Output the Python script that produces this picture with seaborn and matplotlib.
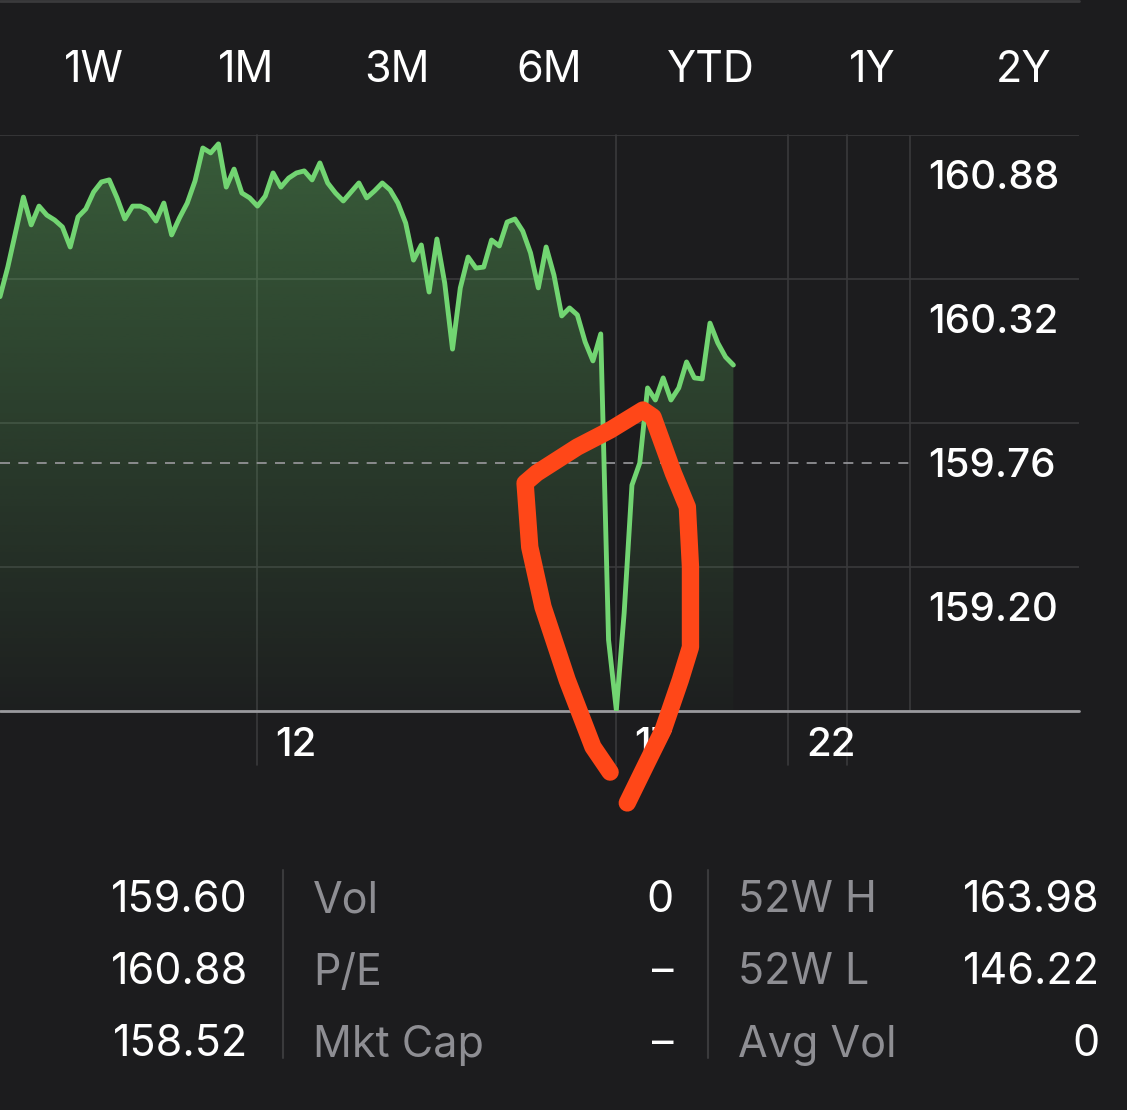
import numpy as np
import pandas as pd
import matplotlib
matplotlib.use("Agg")
import matplotlib.pyplot as plt
import matplotlib.transforms as mtransforms
import seaborn as sns

# ---------------- data ----------------
bar_index = [0, 1, 3, 4, 5, 6, 7, 8, 9, 10, 11, 12, 13, 14, 15, 16, 17, 18, 19, 20,
             21, 22, 23, 24, 25, 26, 27, 28, 29, 30, 31, 32, 33, 34, 35, 36, 37, 38, 39, 40,
             41, 42, 43, 44, 45, 46, 47, 48, 49, 50, 51, 52, 53, 54, 55, 56, 57, 58, 59, 60,
             61, 62, 63, 64, 65, 66, 67, 68, 69, 70, 71, 72, 73, 74, 75, 76, 77, 78, 79, 80,
             81, 82, 83, 84, 85, 86, 87, 88, 89, 90, 91, 92, 93, 94]
price = [160.407, 160.522, 160.794, 160.686, 160.759, 160.724, 160.705, 160.678, 160.600, 160.717,
         160.748, 160.814, 160.853, 160.861, 160.791, 160.709, 160.759, 160.759, 160.744, 160.701,
         160.771, 160.647, 160.713, 160.771, 160.857, 160.985, 160.966, 161.001, 160.833, 160.903,
         160.810, 160.791, 160.759, 160.798, 160.888, 160.833, 160.868, 160.888, 160.896, 160.861,
         160.927, 160.849, 160.810, 160.779, 160.814, 160.849, 160.791, 160.818, 160.849, 160.822,
         160.771, 160.693, 160.549, 160.608, 160.425, 160.631, 160.460, 160.203, 160.441, 160.561,
         160.518, 160.522, 160.627, 160.604, 160.697, 160.709, 160.662, 160.577, 160.441, 160.600,
         160.491, 160.332, 160.363, 160.336, 160.231, 160.157, 160.262, 159.072, 158.799, 159.177,
         159.674, 159.760, 160.052, 160.005, 160.091, 160.005, 160.052, 160.153, 160.091, 160.087,
         160.304, 160.227, 160.172, 160.141]

prev_close = 159.76
y_tick_values = [160.88, 160.32, 159.76, 159.20]
y_tick_labels = ["160.88", "160.32", "159.76", "159.20"]
x_tick_positions = [33, 79, 101]
x_tick_labels = ["12", "17", "22"]
x_extra_grid = [108.6]
plot_area_end = 116.7
x_max = 138.3

tabs = ["1W", "1M", "3M", "6M", "YTD", "1Y", "2Y"]

stats_col1_values = ["159.60", "160.88", "158.52"]
stats_col2_labels = ["Vol", "P/E", "Mkt Cap"]
stats_col2_values = ["0", "–", "–"]
stats_col3_labels = ["52W H", "52W L", "Avg Vol"]
stats_col3_values = ["163.98", "146.22", "0"]

# hand-drawn red annotation (in chart data units)
annot_x = [78.2, 76.0, 72.7, 69.6, 67.9, 67.3, 68.8, 74.0, 78.2, 82.4, 83.7, 86.3, 88.1,
           88.5, 88.5, 87.2, 85.0, 82.9, 80.4]
annot_y = [158.558, 158.656, 158.916, 159.200, 159.433, 159.682, 159.721, 159.822, 159.888,
           159.966, 159.939, 159.721, 159.589, 159.356, 159.044, 158.916, 158.722, 158.593,
           158.438]

# ---------------- style ----------------
BG = "#1c1c1e"
GRID = "#3a3a3c"
GREEN = "#72d572"
GREY = "#8e8e93"
RED = "#ff4718"

sns.set_style("dark", {"axes.facecolor": BG, "figure.facecolor": BG})
plt.rcParams["font.family"] = ["Inter", "DejaVu Sans"]

W, H = 1127, 1110
fig = plt.figure(figsize=(W / 100, H / 100), dpi=100)
fig.patch.set_facecolor(BG)

# y geometry: labels sit 40px below their gridline, 144px per 0.56
grid_offset = 0.56 * 40 / 144
grid_values = [v + grid_offset for v in y_tick_values]
y_top = grid_values[0]
y_bot = y_tick_values[-1] - 0.56 + grid_offset

ax_top_px, ax_bot_px = 135, 711
ax = fig.add_axes([0, 1 - ax_bot_px / H, 1079 / W, (ax_bot_px - ax_top_px) / H])
ax.set_facecolor(BG)
for s in ax.spines.values():
    s.set_visible(False)
ax.grid(False)

df = pd.DataFrame({"bar": bar_index, "price": price})

# horizontal gridlines
for gv in grid_values:
    ax.axhline(gv, color=GRID, lw=1.2, zorder=0)
ax.axhline(y_bot, color="#9a9a9e", lw=2.0, zorder=3, clip_on=False)

# vertical gridlines
ext = (765 - ax_bot_px) / (ax_bot_px - ax_top_px)
for xv in x_tick_positions + x_extra_grid:
    ax.axvline(xv, ymin=-ext, ymax=1, color=GRID, lw=1.2, zorder=0, clip_on=False)
ax.axvline(plot_area_end, color=GRID, lw=1.2, zorder=0)

# gradient fill under the line
poly = ax.fill_between(df["bar"], df["price"], y_bot, color="none", lw=0)
grad = np.zeros((256, 1, 4))
grad[..., 0] = 0x6c / 255
grad[..., 1] = 0xd0 / 255
grad[..., 2] = 0x6c / 255
grad[..., 3] = np.linspace(0.36, 0.02, 256)[:, None]
im = ax.imshow(grad, extent=[0, max(bar_index), y_bot, y_top], aspect="auto",
               origin="upper", zorder=1)
im.set_clip_path(poly.get_paths()[0], transform=ax.transData)

# previous close dashed line
ax.plot([0, plot_area_end], [prev_close, prev_close], color="#9a9a9e", lw=1.2,
        dashes=(6, 5), zorder=2)

# price line
sns.lineplot(data=df, x="bar", y="price", color=GREEN, linewidth=3.5, sort=False,
             ax=ax, zorder=4, estimator=None)
ax.set_xlabel("")
ax.set_ylabel("")
ax.set_xticks([])
ax.set_yticks([])

ax.set_xlim(0, x_max)
ax.set_ylim(y_bot, y_top)

# y labels (inside the right band)
ytrans = mtransforms.blended_transform_factory(ax.transAxes, ax.transData)
ytrans_off = mtransforms.offset_copy(ytrans, fig=fig, x=0, y=-3, units="dots")
for v, lab in zip(y_tick_values, y_tick_labels):
    ax.text(928 / 1079, v, lab, transform=ytrans_off, ha="left", va="center",
            color="white", fontsize=29, fontweight="medium")

# x labels to the right of their gridlines
xtrans = mtransforms.blended_transform_factory(ax.transData, ax.transAxes)
xtrans_off = mtransforms.offset_copy(xtrans, fig=fig, x=18, y=-3, units="dots")
for xv, lab in zip(x_tick_positions, x_tick_labels):
    ax.text(xv, -(742 - ax_bot_px) / (ax_bot_px - ax_top_px), lab, transform=xtrans_off,
            ha="left", va="center", color="white", fontsize=29, fontweight="medium")

# red hand-drawn annotation
ax.plot(annot_x, annot_y, color=RED, lw=12.5, solid_capstyle="round",
        solid_joinstyle="round", clip_on=False, zorder=10)

# top thin line and header tabs
fig.add_artist(plt.Line2D([0, 1079 / W], [1 - 1 / H, 1 - 1 / H], color=GRID, lw=2))
tab_x = [94, 246, 397, 549, 711, 872, 1024]
for tx, t in zip(tab_x, tabs):
    fig.text(tx / W, 1 - 71 / H, t, ha="center", va="center", color="white",
             fontsize=31)

# stats table
row_y = [901, 973, 1045]
for i, ry in enumerate(row_y):
    yy = 1 - ry / H
    fig.text(248 / W, yy, stats_col1_values[i], ha="right", va="center", color="white", fontsize=31)
    fig.text(313 / W, yy, stats_col2_labels[i], ha="left", va="center", color=GREY, fontsize=31)
    fig.text(674 / W, yy, stats_col2_values[i], ha="right", va="center", color="white", fontsize=31)
    fig.text(738 / W, yy, stats_col3_labels[i], ha="left", va="center", color=GREY, fontsize=31)
    fig.text(1100 / W, yy, stats_col3_values[i], ha="right", va="center", color="white", fontsize=31)
for sx in [283, 708]:
    fig.add_artist(plt.Line2D([sx / W, sx / W], [1 - 870 / H, 1 - 1058 / H], color=GRID, lw=1.5))

fig.savefig("out.png", dpi=100, facecolor=BG)
